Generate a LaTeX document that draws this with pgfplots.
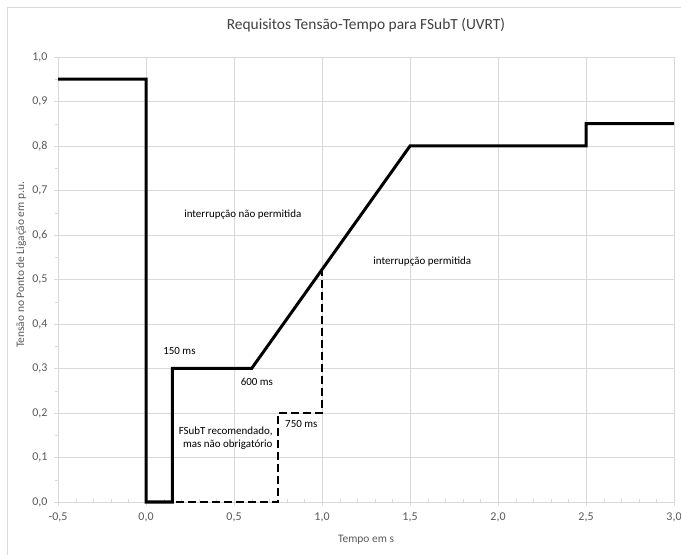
\documentclass[border=0pt]{standalone}
\usepackage{pgfplots}
\pgfplotsset{compat=1.18}
\usepackage{fontspec}
\setmainfont{Carlito}
\definecolor{gridc}{RGB}{217,217,217}
\definecolor{tickc}{RGB}{89,89,89}
\definecolor{titlec}{RGB}{64,64,64}
\begin{document}
\begin{tikzpicture}
\path[use as bounding box] (0bp,0bp) rectangle (681bp,555bp);
\draw[gridc,line width=1bp] (7bp,0bp) -- (7bp,547bp) -- (681bp,547bp);
\begin{axis}[
  at={(58bp,53bp)}, anchor=south west,
  scale only axis, width=616bp, height=445bp,
  xmin=-0.5, xmax=3.0, ymin=0, ymax=1.0,
  xtick={-0.5,0,...,3.0}, ytick={0,0.1,...,1.0},
  minor x tick num=4, minor y tick num=1,
  axis x line=bottom, axis y line=left,
  axis line style={gridc,-},
  grid=major, major grid style={gridc,line width=0.6bp},
  tick style={gridc}, minor tick length=3bp, major tick length=4bp,
  tick align=outside,
  minor x tick style={yshift=3bp},
  /pgf/number format/.cd, use comma, fixed, fixed zerofill, precision=1, assume math mode=true,
  /pgfplots/.cd,
  ticklabel style={font=\fontsize{12}{14}\selectfont, text=tickc},
  xticklabel style={yshift=-3bp},
  yticklabel style={xshift=-3bp},
  xlabel={Tempo em s}, ylabel={Tensão no Ponto de Ligação em p.u.},
  label style={font=\fontsize{11.5}{13}\selectfont, text=tickc},
  xlabel style={at={(axis description cs:0.5,-0.085)}, anchor=center},
  ylabel style={at={(axis description cs:-0.06,0.533)}, anchor=center},
  title={Requisitos Tensão-Tempo para FSubT (UVRT)},
  title style={font=\fontsize{15.5}{17}\selectfont, text=titlec, at={(axis description cs:0.5,1.059)}, anchor=center},
  clip=false,
]
\addplot[black, line width=3bp, line join=miter] coordinates {
 (-0.5,0.95) (0,0.95) (0,0) (0.15,0) (0.15,0.3) (0.6,0.3) (1.5,0.8) (2.5,0.8) (2.5,0.85) (3.0,0.85)};
\addplot[black, line width=2.5bp, dash pattern=on 8bp off 4bp] coordinates {
 (0.17,0) (0.75,0) (0.75,0.2) (1.0,0.2) (1.0,0.52)};
\node[font=\fontsize{11}{13}\selectfont] at (axis cs:0.55,0.645) {interrupção não permitida};
\node[font=\fontsize{11}{13}\selectfont] at (axis cs:1.57,0.54) {interrupção permitida};
\node[font=\fontsize{11}{13}\selectfont] at (axis cs:0.19,0.34) {150 ms};
\node[font=\fontsize{11}{13}\selectfont] at (axis cs:0.63,0.27) {600 ms};
\node[font=\fontsize{11}{13}\selectfont, anchor=west, inner sep=0pt] at (axis cs:0.79,0.175) {750 ms};
\node[font=\fontsize{11}{13}\selectfont, anchor=east, align=right, inner sep=0pt] at (axis cs:0.72,0.143) {FSubT recomendado,\\mas não obrigatório};
\end{axis}
\end{tikzpicture}
\end{document}
